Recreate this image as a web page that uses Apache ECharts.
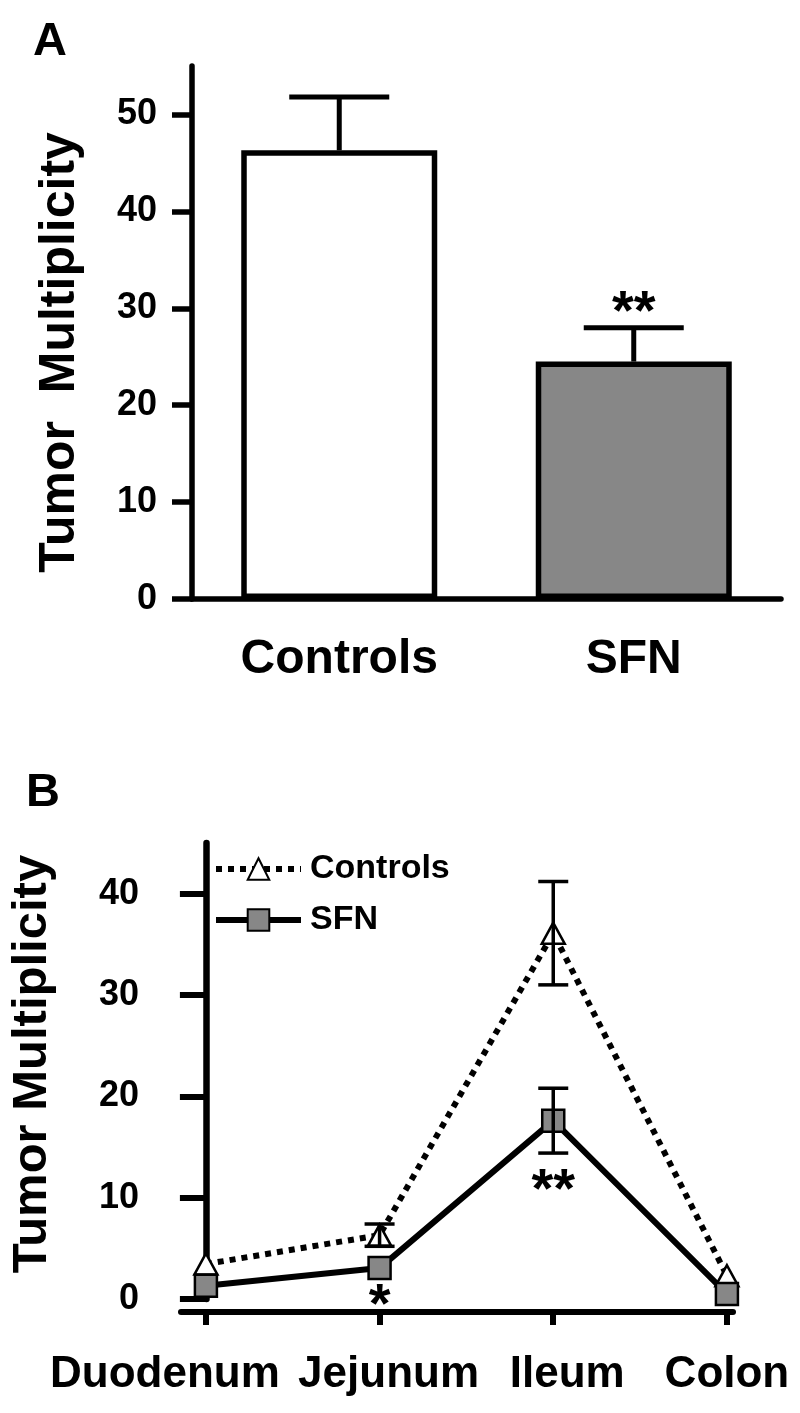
<!DOCTYPE html>
<html><head><meta charset="utf-8">
<script src="https://cdn.jsdelivr.net/npm/echarts@6/dist/echarts.min.js"></script>
<style>html,body{margin:0;padding:0;background:#fff}#c{width:800px;height:1413px}</style>
</head><body><div id="c"></div>
<script>
// ---------- Panel A data ----------
const barCategories = ['Controls', 'SFN'];
const barMeans = [46.3, 24.5];
const barErrors = [5.5, 3.5];
const barSignificance = ['', '**'];
const barYTicks = [0, 10, 20, 30, 40, 50];
// ---------- Panel B data ----------
const siteCategories = ['Duodenum', 'Jejunum', 'Ileum', 'Colon'];
const siteIndex = [0, 1, 2, 3];
const controlsMeans = [3.45, 6.3, 36.1, 2.3];
const controlsErrors = [0, 1.1, 5.1, 0];
const sfnMeans = [1.3, 3.05, 17.6, 0.5];
const sfnErrors = [0, 0, 3.2, 0];
const siteSignificance = ['', '*', '**', ''];
const siteYTicks = [0, 10, 20, 30, 40];

const FONT = '"Liberation Sans", Arial, Helvetica, sans-serif';
const BLACK = '#000';
const GRAY = '#878787';
const barFills = ['#ffffff', GRAY];
const labelShift = ['a', 'b', 'c', 'd'];
const dottedStyle = { color: BLACK, width: 6, type: [6, 6] };
const solidStyle = { color: BLACK, width: 6, type: 'solid' };

function errRender(capHalf, lw, both) {
  return function (params, api) {
    const x = api.value(0), m = api.value(1), e = api.value(2);
    if (!e) return null;
    const top = api.coord([x, m + e]);
    const bot = api.coord([x, both ? m - e : m]);
    const st = { stroke: BLACK, lineWidth: lw };
    const ch = [
      { type: 'line', shape: { x1: top[0], y1: top[1], x2: bot[0], y2: bot[1] }, style: st },
      { type: 'line', shape: { x1: top[0] - capHalf, y1: top[1], x2: top[0] + capHalf, y2: top[1] }, style: st }
    ];
    if (both) ch.push({ type: 'line', shape: { x1: bot[0] - capHalf, y1: bot[1], x2: bot[0] + capHalf, y2: bot[1] }, style: st });
    return { type: 'group', children: ch };
  };
}
function sigRender(marks, dy, fontSize, useLow) {
  return function (params, api) {
    const t = marks[params.dataIndex];
    if (!t) return null;
    const x = api.value(0), m = api.value(1), e = api.value(2);
    const p = api.coord([x, useLow ? m - e : m + e]);
    return { type: 'text', style: { text: t, x: p[0], y: p[1] + dy, align: 'center', verticalAlign: 'middle',
      font: 'bold ' + fontSize + 'px ' + FONT, fill: BLACK } };
  };
}

const chart = echarts.init(document.getElementById('c'), null, { renderer: 'canvas' });
const richB = {
  a: { fontSize: 44, fontWeight: 'bold', fontFamily: FONT, color: BLACK, padding: [0, 82, 0, 0] },
  b: { fontSize: 44, fontWeight: 'bold', fontFamily: FONT, color: BLACK, padding: [0, 0, 0, 18] },
  c: { fontSize: 44, fontWeight: 'bold', fontFamily: FONT, color: BLACK, padding: [0, 0, 0, 28] },
  d: { fontSize: 44, fontWeight: 'bold', fontFamily: FONT, color: BLACK }
};

chart.setOption({
  animation: false,
  backgroundColor: '#fff',
  textStyle: { fontFamily: FONT },
  graphic: [
    { type: 'text', left: 33, top: 19, style: { text: 'A', font: 'bold 47px ' + FONT, fill: BLACK } },
    { type: 'text', left: 26, top: 770, style: { text: 'B', font: 'bold 47px ' + FONT, fill: BLACK } }
  ],
  legend: {
    data: [
      { name: 'Controls', lineStyle: dottedStyle },
      { name: 'SFN', lineStyle: solidStyle }
    ],
    orient: 'vertical', left: 208, top: 847,
    itemWidth: 85, itemHeight: 27, itemGap: 17, selectedMode: false,
    lineStyle: { width: 'inherit', type: 'inherit' },
    textStyle: { fontSize: 34, fontWeight: 'bold', color: BLACK, fontFamily: FONT, padding: [0, 0, 0, 4] }
  },
  grid: [
    { left: 192, right: 19, top: 66, bottom: 814 },
    { left: 179, right: 67, top: 843, bottom: 114 }
  ],
  xAxis: [
    { type: 'category', gridIndex: 0, data: barCategories,
      axisLine: { onZero: false, lineStyle: { color: BLACK, width: 5.5 } },
      axisTick: { show: false },
      axisLabel: { margin: 37, fontSize: 48, fontWeight: 'bold', color: BLACK, fontFamily: FONT } },
    { type: 'value', gridIndex: 1, min: -0.1434, max: 3.035, offset: 13,
      splitLine: { show: false },
      axisLine: { show: true, onZero: false, lineStyle: { color: BLACK, width: 6 } },
      axisTick: { show: true, customValues: siteIndex, length: 13, lineStyle: { color: BLACK, width: 6 } },
      axisLabel: { customValues: siteIndex, margin: 41, rich: richB,
        formatter: function (v) { const i = Math.round(v); return '{' + labelShift[i] + '|' + siteCategories[i] + '}'; } } }
  ],
  yAxis: [
    { type: 'value', gridIndex: 0, min: 0, max: 55,
      splitLine: { show: false },
      axisLine: { show: true, lineStyle: { color: BLACK, width: 5.5 } },
      axisTick: { show: true, customValues: barYTicks, length: 20, lineStyle: { color: BLACK, width: 5.5 } },
      axisLabel: { customValues: barYTicks, margin: 35, fontSize: 36, fontWeight: 'bold', color: BLACK, fontFamily: FONT },
      name: 'Tumor  Multiplicity', nameLocation: 'middle', nameGap: 107,
      nameTextStyle: { fontSize: 50, fontWeight: 'bold', color: BLACK, fontFamily: FONT, padding: [0, 40, 0, 0] } },
    { type: 'value', gridIndex: 1, min: 0, max: 45,
      splitLine: { show: false },
      axisLine: { show: true, lineStyle: { color: BLACK, width: 6.5 } },
      axisTick: { show: true, customValues: siteYTicks, length: 26, lineStyle: { color: BLACK, width: 6 } },
      axisLabel: { customValues: siteYTicks, margin: 42, fontSize: 36, fontWeight: 'bold', color: BLACK, fontFamily: FONT },
      name: 'Tumor Multiplicity', nameLocation: 'middle', nameGap: 124,
      nameTextStyle: { fontSize: 49, fontWeight: 'bold', color: BLACK, fontFamily: FONT, padding: [0, 0, 0, 14] } }
  ],
  series: [
    { type: 'bar', xAxisIndex: 0, yAxisIndex: 0, barWidth: 196, silent: true,
      data: barMeans.map((v, i) => ({ value: v, itemStyle: { color: barFills[i] } })),
      itemStyle: { borderColor: BLACK, borderWidth: 5.5 } },
    { type: 'custom', xAxisIndex: 0, yAxisIndex: 0, silent: true, z: 5,
      data: barMeans.map((m, i) => [i, m, barErrors[i]]), renderItem: errRender(50, 5, false) },
    { type: 'custom', xAxisIndex: 0, yAxisIndex: 0, silent: true, z: 5,
      data: barMeans.map((m, i) => [i, m, barErrors[i]]), renderItem: sigRender(barSignificance, -14, 56, false) },
    { name: 'Controls', type: 'line', xAxisIndex: 1, yAxisIndex: 1, z: 2, silent: true,
      data: controlsMeans.map((v, i) => [siteIndex[i], v]),
      lineStyle: dottedStyle,
      symbol: 'triangle', symbolSize: [23, 21], showAllSymbol: true,
      itemStyle: { color: '#fff', borderColor: BLACK, borderWidth: 2.5 },
      emphasis: { disabled: true } },
    { type: 'custom', xAxisIndex: 1, yAxisIndex: 1, silent: true, z: 4,
      data: controlsMeans.map((m, i) => [siteIndex[i], m, controlsErrors[i]]), renderItem: errRender(15, 3.5, true) },
    { name: 'SFN', type: 'line', xAxisIndex: 1, yAxisIndex: 1, z: 3, silent: true,
      data: sfnMeans.map((v, i) => [siteIndex[i], v]),
      lineStyle: solidStyle,
      symbol: 'rect', symbolSize: 22, showAllSymbol: true,
      itemStyle: { color: GRAY, borderColor: BLACK, borderWidth: 2.5 },
      emphasis: { disabled: true } },
    { type: 'custom', xAxisIndex: 1, yAxisIndex: 1, silent: true, z: 4,
      data: sfnMeans.map((m, i) => [siteIndex[i], m, sfnErrors[i]]), renderItem: errRender(15, 3.5, true) },
    { type: 'custom', xAxisIndex: 1, yAxisIndex: 1, silent: true, z: 5,
      data: sfnMeans.map((m, i) => [siteIndex[i], m, sfnErrors[i]]), renderItem: sigRender(siteSignificance, 38, 56, true) }
  ]
});
</script>
</body></html>
